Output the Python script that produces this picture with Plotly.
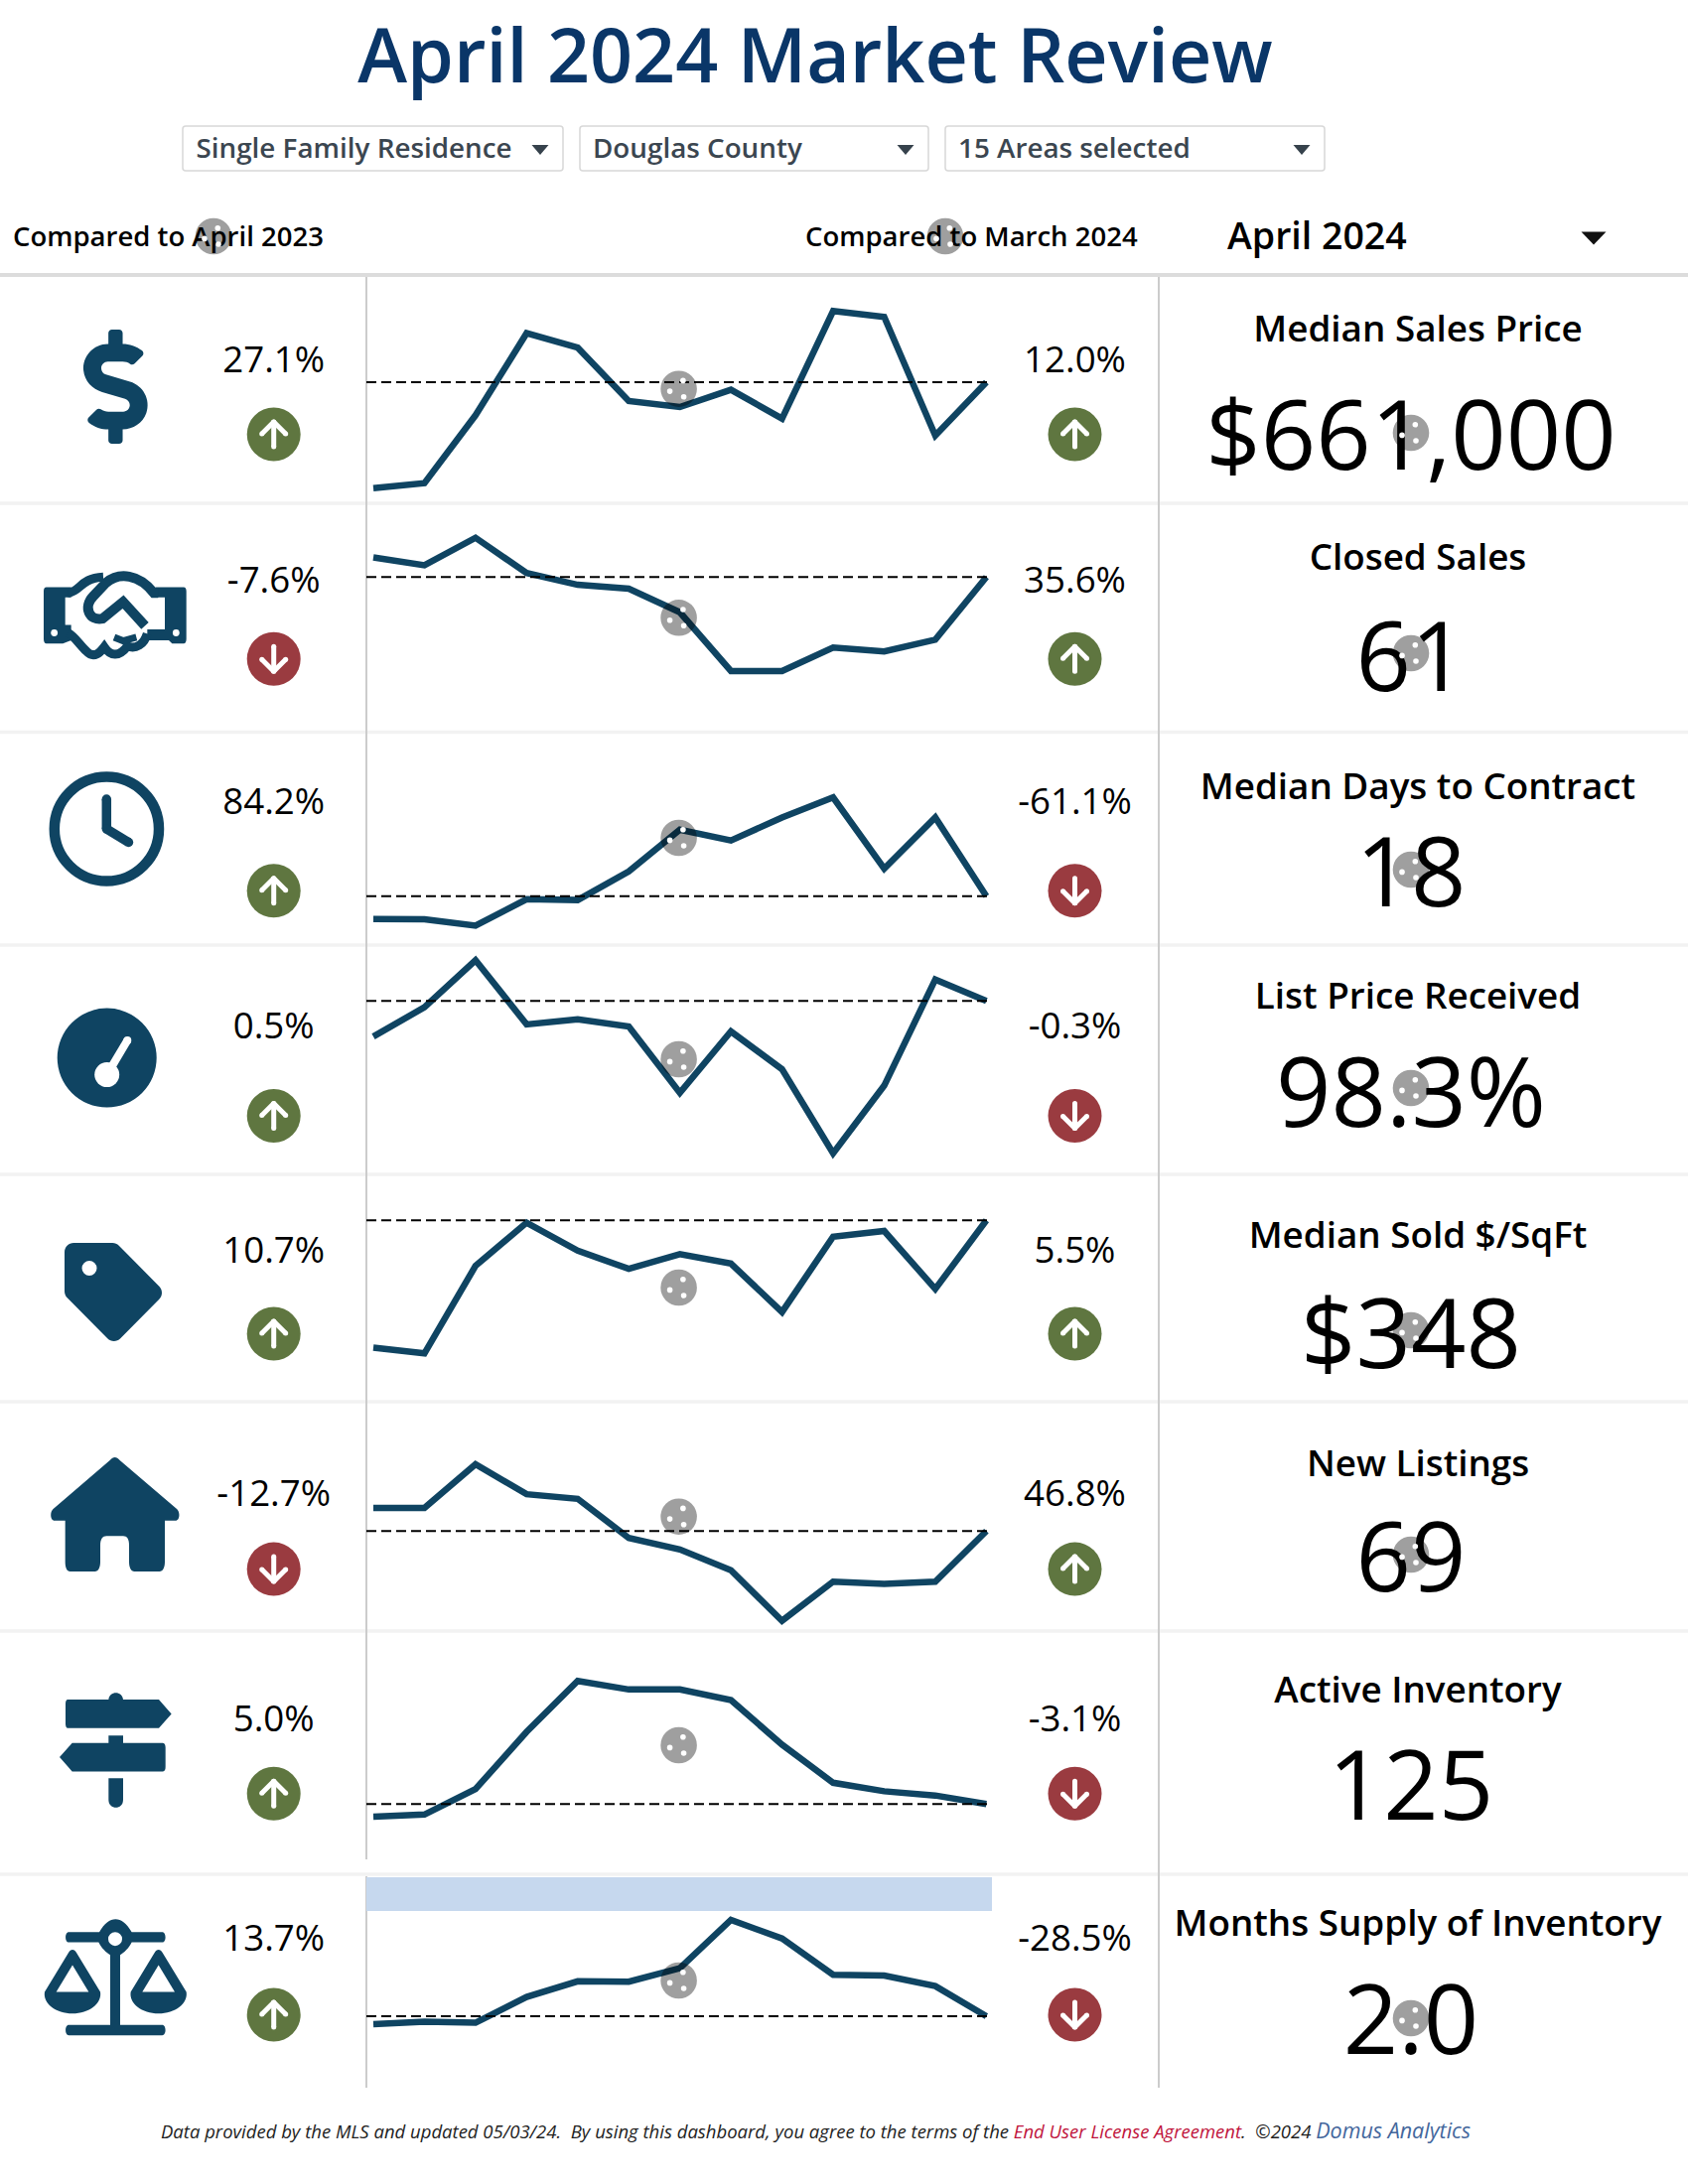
import re
import plotly.graph_objects as go

# ------------------ data ------------------
MONTHS = ["Apr 2023", "May 2023", "Jun 2023", "Jul 2023", "Aug 2023", "Sep 2023", "Oct 2023",
          "Nov 2023", "Dec 2023", "Jan 2024", "Feb 2024", "Mar 2024", "Apr 2024"]
METRICS = ["Median Sales Price", "Closed Sales", "Median Days to Contract", "List Price Received",
           "Median Sold $/SqFt", "New Listings", "Active Inventory", "Months Supply of Inventory"]
KPI_LABELS = ["$661,000", "61", "18", "98.3%", "$348", "69", "125", "2.0"]
YOY_LABELS = ["27.1%", "-7.6%", "84.2%", "0.5%", "10.7%", "-12.7%", "5.0%", "13.7%"]
MOM_LABELS = ["12.0%", "35.6%", "-61.1%", "-0.3%", "5.5%", "46.8%", "-3.1%", "-28.5%"]
YOY_UP = [True, False, True, True, True, False, True, True]
MOM_UP = [True, True, False, False, True, True, False, False]

SALES_PRICE = [520000, 526600, 617000, 726200, 707000, 636000, 628000, 651000, 612500, 755700, 747800, 590000, 661000]
CLOSED_SALES = [66, 64, 71, 62, 59, 58, 52, 37, 37, 43, 42, 45, 61]
DAYS_TO_CONTRACT = [9.8, 9.7, 7.4, 16.9, 16.6, 26.9, 41.9, 38.0, 46.3, 53.5, 27.9, 46.3, 18.0]
LIST_PRICE_RECEIVED = [97.80, 98.21, 98.87, 97.97, 98.04, 97.94, 97.01, 97.87, 97.34, 96.16, 97.11, 98.60, 98.30]
SOLD_PER_SQFT = [314.4, 312.9, 336.0, 347.4, 340.0, 335.2, 339.1, 336.6, 323.8, 343.7, 345.2, 329.9, 348.0]
NEW_LISTINGS = [79, 79, 98, 85, 83, 66, 61, 52, 30, 47, 46, 47, 69]
ACTIVE_INVENTORY = [119, 120, 132, 159, 183, 179, 179, 174, 153, 135, 131, 129, 125]
MONTHS_SUPPLY = [1.78, 1.85, 1.82, 2.53, 2.96, 2.95, 3.32, 4.65, 4.14, 3.14, 3.12, 2.83, 2.0]
SERIES = [SALES_PRICE, CLOSED_SALES, DAYS_TO_CONTRACT, LIST_PRICE_RECEIVED,
          SOLD_PER_SQFT, NEW_LISTINGS, ACTIVE_INVENTORY, MONTHS_SUPPLY]

# ------------------ layout constants (page pixels) ------------------
W, H = 1700, 2200
FONT = "Open Sans"
NAVY = "#0f4462"
GREEN = "#5f7640"
RED = "#9a3b40"
ROW_BOX = [(278, 507), (508, 737), (738, 952), (953, 1183), (1184, 1412), (1413, 1643), (1644, 1888), (1889, 2103)]
CALIB = [(520000, 491.7, 661000, 385.0), (71, 541.7, 37, 676.0), (53.5, 803.3, 18, 902.7),
         (98.87, 967.3, 96.16, 1161.7), (348, 1229.3, 312.9, 1363.3), (98, 1475.0, 30, 1632.7),
         (183, 1693.3, 119, 1830.0), (4.65, 1934.0, 2.0, 2031.0)]
PCT_Y = [366, 588, 811, 1037, 1263, 1508, 1735, 1956]
CIRC_Y = [437.5, 663.8, 897.3, 1124, 1343.5, 1580.6, 1806.8, 2029.5]
TITLE_Y = [335, 565, 796, 1007, 1248, 1478, 1706, 1941]
KPI_Y = [449, 672, 889, 1111, 1354, 1579, 1809, 2045]
DOT_CHART_Y = [391.7, 622.3, 844, 1067, 1297, 1527.7, 1758, 1995]
DOT_KPI_Y = [436, 658, 876, 1096, 1340, 1566, None, 2033]
SEPS = [507, 737.5, 952, 1183, 1412, 1643, 1888]

fig = go.Figure()
shapes = []


def page_path(d, fill=NAVY, line=None, lw=0, layer="above"):
    shapes.append(dict(type="path", path=d, xref="x", yref="y", fillcolor=fill, layer=layer,
                       line=dict(color=line or "rgba(0,0,0,0)", width=lw)))


def stroke(d, color=NAVY, lw=5):
    page_path(d, fill="rgba(0,0,0,0)", line=color, lw=lw)


def ell(cx, cy, rx, ry=None, fill=NAVY, op=1.0):
    ry = rx if ry is None else ry
    shapes.append(dict(type="circle", xref="x", yref="y", x0=cx - rx, x1=cx + rx, y0=cy - ry, y1=cy + ry,
                       fillcolor=fill, opacity=op, line=dict(width=0)))


def seg(x0, y0, x1, y1, color, lw, dash=None, layer="above"):
    shapes.append(dict(type="line", xref="x", yref="y", x0=x0, x1=x1, y0=y0, y1=y1, layer=layer,
                       line=dict(color=color, width=lw, dash=dash or "solid")))


def tf(d, x0, y0, sx, sy=None):
    """Turn an svg path (relative commands allowed) into absolute page coordinates."""
    sy = sx if sy is None else sy
    toks = re.findall(r"[MmLlHhVvCcSsZz]|-?\d*\.?\d+", d)
    out, i, cx, cy, sxs, sys_, cmd = [], 0, 0.0, 0.0, 0.0, 0.0, None
    X = lambda v: x0 + v * sx
    Y = lambda v: y0 + v * sy
    while i < len(toks):
        if re.match(r"[A-Za-z]", toks[i]):
            cmd = toks[i]
            i += 1
            if cmd in "Zz":
                out.append("Z")
                cx, cy = sxs, sys_
                continue
        rel = cmd.islower()
        c = cmd.upper()
        n = {"M": 2, "L": 2, "H": 1, "V": 1, "C": 6, "S": 4}[c]
        v = [float(t) for t in toks[i:i + n]]
        i += n
        if c == "H":
            cx = cx + v[0] if rel else v[0]
            out.append(f"L{X(cx):.2f},{Y(cy):.2f}")
        elif c == "V":
            cy = cy + v[0] if rel else v[0]
            out.append(f"L{X(cx):.2f},{Y(cy):.2f}")
        else:
            pts = []
            for k in range(0, n, 2):
                px = v[k] + (cx if rel else 0)
                py = v[k + 1] + (cy if rel else 0)
                pts.append((px, py))
            cx, cy = pts[-1]
            out.append(c + " ".join(f"{X(a):.2f},{Y(b):.2f}" for a, b in pts))
            if c == "M":
                sxs, sys_ = cx, cy
                cmd = "l" if rel else "L"
    return " ".join(out)


def round_rect(x0, y0, x1, y1, r):
    return (f"M{x0+r},{y0} L{x1-r},{y0} Q{x1},{y0} {x1},{y0+r} L{x1},{y1-r} Q{x1},{y1} {x1-r},{y1} "
            f"L{x0+r},{y1} Q{x0},{y1} {x0},{y1-r} L{x0},{y0+r} Q{x0},{y0} {x0+r},{y0} Z")


def tri(cx, cy, w, h, color):
    page_path(f"M{cx-w/2},{cy-h/2} L{cx+w/2},{cy-h/2} L{cx},{cy+h/2} Z", fill=color)


def caps(pts, lw, color=NAVY):
    for a, b in zip(pts, pts[1:]):
        seg(a[0], a[1], b[0], b[1], color, lw)
    for p in pts:
        ell(p[0], p[1], lw / 2, fill=color)


# ------------------ static frame ------------------
seg(0, 277, W, 277, "#dcdcdc", 4, layer="below")
for y in SEPS:
    seg(0, y, W, y, "#f2f2f2", 3.5, layer="below")
seg(369, 279, 369, 1873, "#cccccc", 2, layer="below")
seg(369, 1890, 369, 2103, "#cccccc", 2, layer="below")
seg(1167, 279, 1167, 2103, "#cccccc", 2, layer="below")
shapes.append(dict(type="rect", xref="x", yref="y", x0=369, x1=999, y0=1891, y1=1925, fillcolor="#c6d8ee",
                   line=dict(width=0), layer="below"))

# dropdowns
for (a, b), cx in zip([(184, 567), (584, 935), (952, 1334)], [544, 912, 1311]):
    page_path(round_rect(a, 127, b, 172, 3), fill="#ffffff", line="#d8d8d8", lw=1.5, layer="below")
    tri(cx, 151, 17, 10, "#36424c")
tri(1605, 240, 25, 13, "#111111")


# ------------------ icons ------------------
DOLLAR = ("M209.2 233.4l-108-31.6C88.7 198.2 80 186.5 80 173.5c0-16.3 13.2-29.5 29.5-29.5h66.3c12.2 0 24.2 3.7 34.2 10.5 "
          "6.1 4.1 14.3 3.1 19.5-2l34.8-34c7.1-6.9 6.1-18.4-1.8-24.5C238 74.8 207.4 64.1 176 64V16c0-8.8-7.2-16-16-16h-32"
          "c-8.8 0-16 7.2-16 16v48h-2.5C45.8 64-5.4 118.7.5 183.6c4.2 46.1 39.4 83.6 83.8 96.6l102.5 30c12.5 3.7 21.2 15.3 "
          "21.2 28.3 0 16.3-13.2 29.5-29.5 29.5h-66.3C100 368 88 364.3 78 357.5c-6.1-4.1-14.3-3.1-19.5 2l-34.8 34c-7.1 6.9-6.1 "
          "18.4 1.8 24.5 24.5 19.2 55.1 29.9 86.5 30v48c0 8.8 7.2 16 16 16h32c8.8 0 16-7.2 16-16v-48.2c46.6-.9 90.3-28.6 "
          "105.7-72.7 21.5-61.6-14.6-124.8-72.5-141.7z")
page_path(tf(DOLLAR, 84, 332, 115 / 512))

# handshake (zoom-2 space: x/3, 500 + y/2.24)
HX, HY = 1 / 3, 1 / 2.24
hs = lambda d: tf(d, 0, 500, HX, HY)
page_path(hs("M140,205 L215,205 L215,228 L197,228 L197,290 L215,290 L215,325 L190,332 L140,332 C135,332 132,328 132,322 L132,214 C132,208 135,205 140,205 Z"))
page_path(hs("M555,205 L470,205 L470,228 L498,228 L498,300 L445,300 L445,325 L510,325 L520,332 L555,332 C560,332 563,328 563,322 L563,214 C563,208 560,205 555,205 Z"))
ell(164 / 3, 500 + 308 / 2.24, 3.4, fill="#ffffff")
ell(532 / 3, 500 + 308 / 2.24, 3.4, fill="#ffffff")
stroke(hs("M205,218 C245,215 240,185 312,182"), lw=9)
stroke(hs("M478,218 L465,218 C420,175 360,170 320,195 L282,225 C250,250 270,282 310,276 L372,238 L438,292"), lw=10)
stroke(hs("M205,308 C225,315 240,335 262,350 C285,368 305,350 315,340 C335,362 360,362 385,338 C410,345 435,335 445,310"), lw=9)
stroke(hs("M345,318 L372,326 L412,318"), lw=7)

# clock
shapes.append(dict(type="circle", xref="x", yref="y", x0=54.8, x1=160, y0=782.5, y1=887.5, fillcolor="rgba(0,0,0,0)",
                   line=dict(color=NAVY, width=10.5)))
caps([(107.3, 805), (107.3, 835), (129.5, 848.5)], 9.5)

# gauge
ell(107.7, 1065.6, 50)
ell(107.7, 1082.6, 12.5, fill="#ffffff")
caps([(107.7, 1082.6), (128.3, 1048)], 8, color="#ffffff")

# tag
TAG = ("M0 252.118V48C0 21.49 21.49 0 48 0h204.118c12.7 0 24.9 5 33.941 14.059l211.882 211.882c18.745 18.745 18.745 49.137 0 67.882"
       "L293.823 497.941c-18.745 18.745-49.137 18.745-67.882 0L14.059 286.059C5 277 0 265 0 252.118z")
page_path(tf(TAG, 65, 1252, 98 / 512, 99 / 512))
ell(90, 1277.5, 7.5, fill="#ffffff")

# home / signs / scales (zoom-3 space: x/3, 1200 + y/1.742)
z3 = lambda d: tf(d, 0, 1200, 1 / 3, 1 / 1.742)
page_path(z3("M332,472 C342,465 352,465 362,472 L535,558 C545,564 543,578 530,578 L498,578 L498,650 "
             "C498,660 492,667 482,667 L406,667 C396,667 390,660 390,650 L390,622 C390,610 384,605 372,605 L322,605 "
             "C310,605 303,610 303,622 L303,650 C303,660 297,667 287,667 L212,667 C202,667 197,660 197,650 L197,578 "
             "L165,578 C152,578 150,564 160,558 Z"))
page_path(z3("M328,892 C330,876 370,876 372,892 L480,892 L518,917 L480,942 L205,942 C200,942 198,938 198,934 L198,900 C198,895 200,892 205,892 Z"))
page_path(z3("M328,955 L372,955 L372,968 L492,968 C498,968 500,972 500,976 L500,1010 C500,1015 498,1018 492,1018 L218,1018 L180,993 L218,968 L328,968 Z"))
page_path(z3("M328,1030 L372,1030 L372,1068 C372,1086 328,1086 328,1068 Z"))
page_path(z3("M208,1300 L300,1300 C330,1270 368,1270 398,1300 L490,1300 C503,1300 503,1318 490,1318 L398,1318 C390,1328 375,1336 363,1340 "
             "L363,1463 L490,1463 C503,1463 503,1481 490,1481 L208,1481 C195,1481 195,1463 208,1463 L333,1463 L333,1340 "
             "C321,1336 306,1328 298,1318 L208,1318 C195,1318 195,1300 208,1300 Z"))
ell(348 / 3, 1200 + 1312 / 1.742, 7, 7, fill="#ffffff")
for c in (219, 479):
    page_path(z3(f"M{c-12},1336 C{c-6},1329 {c+6},1329 {c+12},1336 L{c+84},1405 C{c+90},1425 {c+50},1443 {c},1443 "
                 f"C{c-50},1443 {c-90},1425 {c-84},1405 Z"))
    page_path(z3(f"M{c},1358 L{c+49},1405 L{c-49},1405 Z"), fill="#ffffff")

# ------------------ text under the grey dots ------------------


def text(x, y, s, size, color="#000000", pos="middle center", weight=400):
    fig.add_trace(go.Scatter(x=[x], y=[y], mode="text", text=[s], textposition=pos, cliponaxis=False,
                             hoverinfo="skip", showlegend=False, xaxis="x", yaxis="y",
                             textfont=dict(family=FONT, size=size, color=color, weight=weight)))


text(821, 64, "April 2024 Market Review", 75.3, "#0a3668", weight=600)
for x, s in zip([197.5, 597, 965], ["Single Family Residence", "Douglas County", "15 Areas selected"]):
    text(x, 152.5, s, 27.8, "#3b4650", pos="middle right", weight=600)
text(13, 241, "Compared to April 2023", 27.5, weight=600, pos="middle right")
text(811, 241, "Compared to March 2024", 27.5, weight=600, pos="middle right")
text(1236, 242, "April 2024", 37.5, weight=600, pos="middle right")

for i in range(8):
    text(275.7, PCT_Y[i], YOY_LABELS[i], 36.7)
    text(1082.5, PCT_Y[i], MOM_LABELS[i], 36.7)
    text(1428, TITLE_Y[i], METRICS[i], 36.8, weight=600)
    text(1421, KPI_Y[i], KPI_LABELS[i], 97)

# ------------------ sparklines ------------------
axes = {}
for i, (vals, box, cal) in enumerate(zip(SERIES, ROW_BOX, CALIB)):
    n = i + 2
    v1, y1, v2, y2 = cal
    k = (v2 - v1) / (y2 - y1)
    top, bot = box
    axes[f"xaxis{n}"] = dict(domain=[369 / W, 999 / W], type="category", categoryorder="array", categoryarray=MONTHS,
                             range=[-0.136, 12.109], visible=False, fixedrange=True, anchor=f"y{n}")
    axes[f"yaxis{n}"] = dict(domain=[1 - bot / H, 1 - top / H], range=[v1 + (bot - y1) * k, v1 + (top - y1) * k],
                             visible=False, fixedrange=True, anchor=f"x{n}")
    fig.add_trace(go.Scatter(x=MONTHS, y=vals, mode="lines", line=dict(color=NAVY, width=6.5), showlegend=False,
                             xaxis=f"x{n}", yaxis=f"y{n}", hoverinfo="skip"))
    shapes.append(dict(type="line", xref=f"x{n} domain", yref=f"y{n}", x0=0, x1=1, y0=vals[-1], y1=vals[-1],
                       line=dict(color="#000000", width=2, dash="10px,5px")))

# ------------------ arrows + grey dots ------------------
for i in range(8):
    for cx, up in ((275.7, YOY_UP[i]), (1082.5, MOM_UP[i])):
        cy = CIRC_Y[i]
        ell(cx, cy, 27, fill=GREEN if up else RED)
        s = -1 if up else 1
        caps([(cx, cy - s * 12.5), (cx, cy + s * 12.5)], 5, "#ffffff")
        caps([(cx - 12, cy + s * 0.5), (cx, cy + s * 12.5), (cx + 12, cy + s * 0.5)], 5, "#ffffff")


def grey_dot(cx, cy):
    ell(cx, cy, 18.3, fill="#000000", op=0.375)
    for dx, dy in ((4.3, -8.3), (-9, 2.4), (5, 8)):
        ell(cx + dx, cy + dy, 2.8, fill="#ffffff")


grey_dot(215, 238)
grey_dot(952, 238)
for y in DOT_CHART_Y:
    grey_dot(683.6, y)
for y in DOT_KPI_Y:
    if y is not None:
        grey_dot(1421, y)

# ------------------ footer ------------------
footer = ("<i>Data provided by the MLS and updated 05/03/24.&#160;&#160;By using this dashboard, you agree to the terms of the "
          "<span style='color:#c0143c'>End User License Agreement</span>.&#160;&#160;©2024 </i>"
          "<span style='color:#44679c;font-size:21.5px'><i>Domus Analytics</i></span>")

fig.update_layout(
    width=W, height=H, margin=dict(l=0, r=0, t=0, b=0), paper_bgcolor="#ffffff", plot_bgcolor="rgba(0,0,0,0)",
    showlegend=False, shapes=shapes,
    xaxis=dict(domain=[0, 1], range=[0, W], visible=False, fixedrange=True),
    yaxis=dict(domain=[0, 1], range=[H, 0], visible=False, fixedrange=True),
    annotations=[dict(x=821.5 / W, y=1 - 2145 / H, xref="paper", yref="paper", yanchor="middle", text=footer, showarrow=False,
                      font=dict(family=FONT, size=18.5, color="#222222"))],
    **axes,
)
fig.write_html("out.html", config={"displayModeBar": False},
               post_script="document.body.style.margin='0';document.body.style.overflow='hidden';")
